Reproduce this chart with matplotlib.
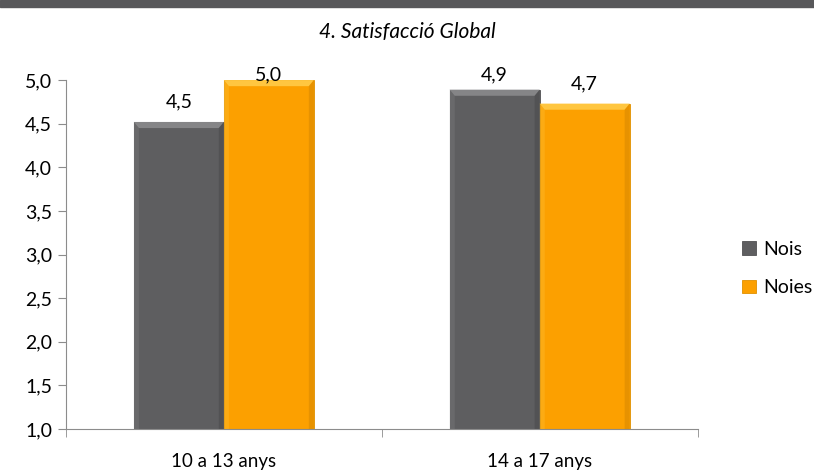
import numpy as np
import matplotlib.pyplot as plt
from matplotlib.patches import Polygon, Rectangle

categories = ["10 a 13 anys", "14 a 17 anys"]
nois = [4.52, 4.89]
noies = [5.00, 4.73]
series_names = ["Nois", "Noies"]
yticks = [1.0, 1.5, 2.0, 2.5, 3.0, 3.5, 4.0, 4.5, 5.0]

c_gray = "#5e5e60"
c_orange = "#fca000"

plt.rcParams["font.family"] = ["Lato", "DejaVu Sans"]

fig = plt.figure(figsize=(8.14, 4.71), dpi=100)
# dark band at the top
fig.patches.append(Rectangle((0, 0.985), 1, 0.015, transform=fig.transFigure,
                             color="#58585a", zorder=0))
fig.text(0.5, 0.932, "4. Satisfacció Global", ha="center", va="center",
         fontsize=15, style="italic")

ax = fig.add_axes([0.081, 0.089, 0.776, 0.741])
x = np.arange(len(categories))
w = 0.285

def bevel(bar, light, dark):
    x0, y0 = bar.get_x(), bar.get_y()
    x1, y1 = x0 + bar.get_width(), y0 + bar.get_height()
    dx, dy = 0.016, 0.07
    top = Polygon([(x0, y1), (x1, y1), (x1 - dx, y1 - dy), (x0 + dx, y1 - dy)],
                  closed=True, color=light, lw=0, zorder=3)
    left = Polygon([(x0, y0), (x0, y1), (x0 + dx, y1 - dy), (x0 + dx, y0)],
                   closed=True, color=light, lw=0, alpha=0.3, zorder=3)
    right = Polygon([(x1, y0), (x1, y1), (x1 - dx, y1 - dy), (x1 - dx, y0)],
                    closed=True, color=dark, lw=0, alpha=0.35, zorder=3)
    for p in (top, left, right):
        ax.add_patch(p)

b1 = ax.bar(x - w / 2, [v - 1 for v in nois], w, bottom=1, color=c_gray,
            edgecolor="#505052", lw=0.6, label=series_names[0], zorder=2)
b2 = ax.bar(x + w / 2, [v - 1 for v in noies], w, bottom=1, color=c_orange,
            edgecolor="#e09000", lw=0.6, label=series_names[1], zorder=2)
for b in b1:
    bevel(b, "#858587", "#3e3e40")
for b in b2:
    bevel(b, "#ffc640", "#c07a00")

# value labels; excel pushes them down when they hit the top of the plot
for bars, vals in ((b1, nois), (b2, noies)):
    for b, v in zip(bars, vals):
        ax.text(b.get_x() + b.get_width() / 2, min(v + 0.23, 5.06),
                f"{v:.1f}".replace(".", ","),
                ha="center", va="center", fontsize=14, clip_on=False, zorder=5)

ax.set_xlim(-0.5, 1.5)
ax.set_ylim(1.0, 5.0)
ax.set_yticks(yticks)
ax.set_yticklabels([f"{t:.1f}".replace(".", ",") for t in yticks], fontsize=14)
ax.set_xticks(x)
ax.set_xticklabels(categories, fontsize=13.5)
ax.set_xticks([-0.5, 0.5, 1.5], minor=True)
ax.tick_params(axis="x", which="major", length=0, pad=17)
ax.tick_params(axis="x", which="minor", length=6, color="#8c8c8c")
ax.tick_params(axis="y", length=6, color="#8c8c8c", pad=4)
for s in ("top", "right"):
    ax.spines[s].set_visible(False)
for s in ("left", "bottom"):
    ax.spines[s].set_color("#8c8c8c")

fig.legend(handles=[b1, b2], labels=series_names, loc="center left",
           bbox_to_anchor=(0.89, 0.43), frameon=False, fontsize=14,
           handlelength=0.7, handleheight=0.7, labelspacing=1.1, handletextpad=0.4)

fig.savefig("out.png", dpi=100)
